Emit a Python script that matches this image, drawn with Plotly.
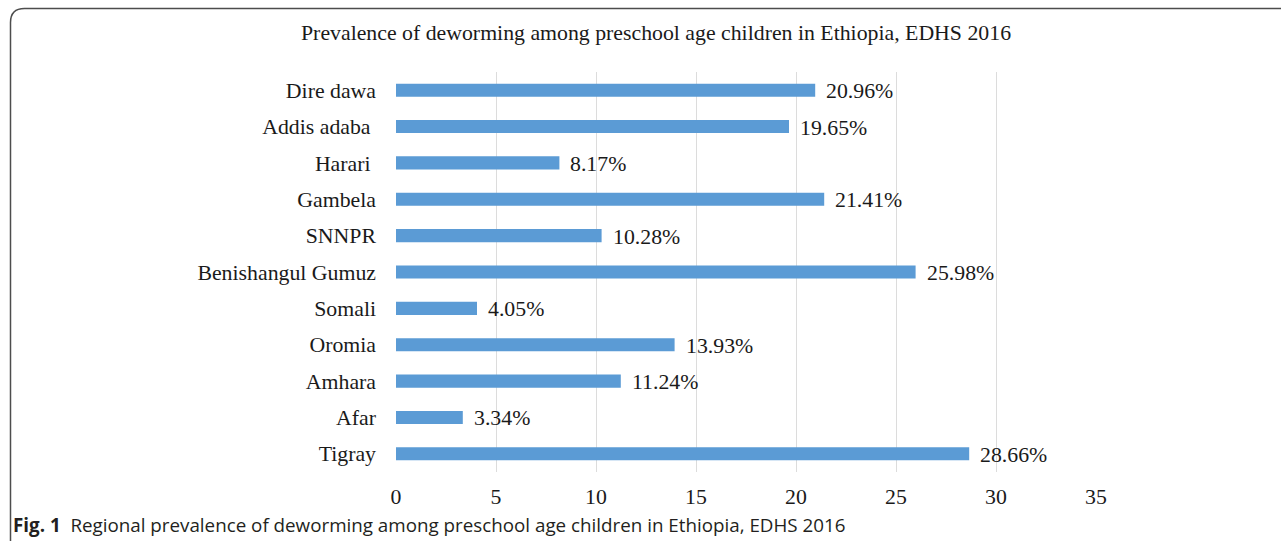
import plotly.graph_objects as go

regions = ["Tigray", "Afar", "Amhara", "Oromia", "Somali", "Benishangul Gumuz",
           "SNNPR", "Gambela", "Harari ", "Addis adaba ", "Dire dawa"]
values = [28.66, 3.34, 11.24, 13.93, 4.05, 25.98, 10.28, 21.41, 8.17, 19.65, 20.96]
labels = ["28.66%", "3.34%", "11.24%", "13.93%", "4.05%", "25.98%",
          "10.28%", "21.41%", "8.17%", "19.65%", "20.96%"]
x_ticks = [0, 5, 10, 15, 20, 25, 30, 35]

W, H = 1281, 541
L, R, T, B = 396, 185, 72, 69
pw, ph = W - L - R, H - T - B

def px(x):
    return (x - L) / pw

def py(y):
    return (H - B - y) / ph

serif = "Liberation Serif, Times New Roman, serif"
FS = 21.8

fig = go.Figure()
fig.add_trace(go.Bar(
    x=values, y=regions, orientation="h",
    marker=dict(color="#5B9BD5", line=dict(width=0)),
    width=0.36, hoverinfo="skip",
))

for r, v, lab in zip(regions, values, labels):
    fig.add_annotation(x=v, y=r, xref="x", yref="y", text=lab, showarrow=False,
                       xanchor="left", yanchor="middle", xshift=9, yshift=-1,
                       font=dict(family=serif, size=FS, color="#1a1a1a"))

fig.add_annotation(x=px(655.5), y=py(33), xref="paper", yref="paper",
                   text="Prevalence of deworming among preschool age children in Ethiopia, EDHS 2016",
                   showarrow=False, xanchor="center", yanchor="middle",
                   font=dict(family=serif, size=FS, color="#1a1a1a"))

fig.add_annotation(x=px(11), y=py(525), xref="paper", yref="paper",
                   text="<b>Fig. 1</b>  Regional prevalence of deworming among preschool age children in Ethiopia, EDHS 2016",
                   showarrow=False, xanchor="left", yanchor="middle",
                   font=dict(family="Open Sans, Noto Sans, sans-serif", size=18.8, color="#231f20"))

# rounded frame
x0, yt, rad = 10.5, 8.5, 14
path = (f"M {px(x0)},{py(560)} L {px(x0)},{py(yt + rad)} "
        f"Q {px(x0)},{py(yt)} {px(x0 + rad)},{py(yt)} L {px(1300)},{py(yt)}")
fig.add_shape(type="path", path=path, xref="paper", yref="paper",
              line=dict(color="#4d4d4d", width=1.5))

fig.update_layout(
    width=W, height=H,
    margin=dict(l=L, r=R, t=T, b=B, pad=0),
    paper_bgcolor="white", plot_bgcolor="white",
    showlegend=False,
    xaxis=dict(range=[0, 35], tickvals=x_ticks, ticktext=[str(t) for t in x_ticks],
               showgrid=True, gridcolor="#dcdcdc", gridwidth=1.3, zeroline=False,
               showline=False, ticks="", ticklen=0, ticklabelstandoff=9,
               tickfont=dict(family=serif, size=FS, color="#1a1a1a")),
    yaxis=dict(categoryorder="array", categoryarray=regions, showgrid=False,
               zeroline=False, showline=False, ticks="", ticklabelstandoff=19,
               tickfont=dict(family=serif, size=FS, color="#1a1a1a"),
               range=[-0.5, 10.5]),
)

fig.write_html("out.html")
